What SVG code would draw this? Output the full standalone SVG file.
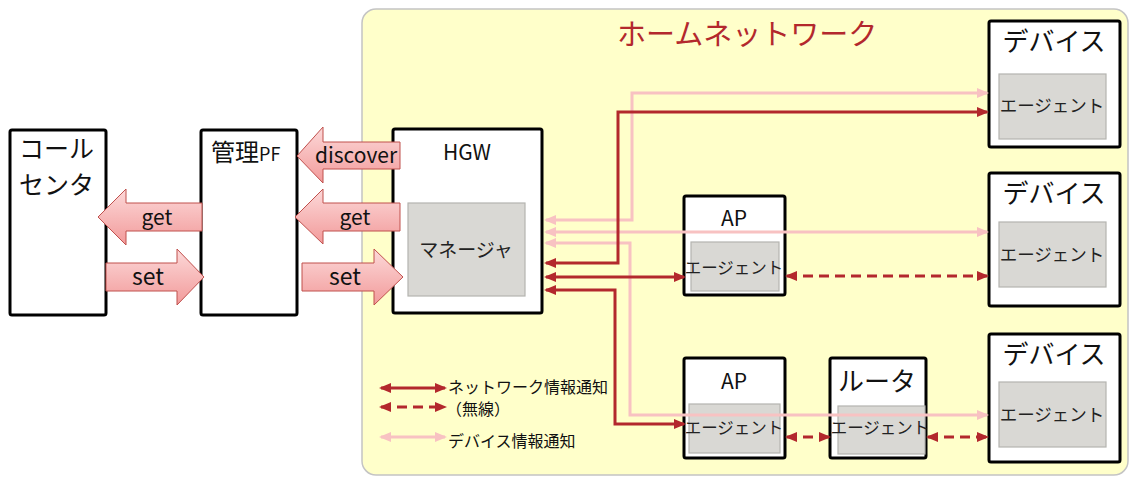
<svg xmlns="http://www.w3.org/2000/svg" width="1131" height="477" viewBox="0 0 1131 477">
<defs>
<style>
text{font-family:"Noto Sans CJK JP","Noto Sans",sans-serif;fill:#111}
.box{fill:#fff;stroke:#000;stroke-width:3}
.agent{fill:#d9d8d4;stroke:#b4b4b0;stroke-width:1.2}
.fat{fill:url(#pg);stroke:#c0504d;stroke-width:1}
.red{fill:none;stroke:#b3282d;stroke-width:3;marker-start:url(#mr);marker-end:url(#mr)}
.dash{stroke-dasharray:10 6}
.pink{fill:none;stroke:#f8c2c2;stroke-width:3;marker-start:url(#mp);marker-end:url(#mp)}
.ag{font-size:16.5px;text-anchor:middle;fill:#222}
.agd{font-size:17.5px;text-anchor:middle;fill:#222}
.dev{font-size:26px;text-anchor:middle}
.lg{font-size:16px}
</style>
<linearGradient id="pg" x1="0" y1="0" x2="0" y2="1">
<stop offset="0" stop-color="#fcd9d9"/>
<stop offset="1" stop-color="#f29a9a"/>
</linearGradient>
<marker id="mr" viewBox="0 0 12 10" refX="10" refY="5" markerWidth="12" markerHeight="10" markerUnits="userSpaceOnUse" orient="auto-start-reverse">
<path d="M0,0 L12,5 L0,10 z" fill="#b3282d"/>
</marker>
<marker id="mp" viewBox="0 0 12 10" refX="10" refY="5" markerWidth="12" markerHeight="10" markerUnits="userSpaceOnUse" orient="auto-start-reverse">
<path d="M0,0 L12,5 L0,10 z" fill="#f8c2c2"/>
</marker>
</defs>

<g id="home-network">
<rect x="362" y="9" width="766" height="466" rx="14" fill="#ffffca" stroke="#c4c4c4" stroke-width="1.5"/>
<text x="617" y="45" font-size="29" style="fill:#b3282d">ホームネットワーク</text>
</g>

<g id="call-center">
<rect class="box" x="10" y="130" width="96" height="185" rx="2"/>
<text x="19" y="158" font-size="25">コール</text>
<text x="19" y="194" font-size="25">センタ</text>
</g>

<g id="mgmt-pf">
<rect class="box" x="201" y="130" width="96" height="185" rx="2"/>
<text x="211" y="161" font-size="24">管理<tspan font-size="18">PF</tspan></text>
</g>

<g id="hgw">
<rect class="box" x="393" y="129" width="149" height="184" rx="2"/>
<text x="467" y="160" font-size="21" text-anchor="middle">HGW</text>
<rect class="agent" x="408" y="203" width="117" height="93"/>
<text x="466" y="257" font-size="19" text-anchor="middle" style="fill:#222">マネージャ</text>
</g>

<g id="ap1">
<rect class="box" x="684" y="196" width="101" height="99" rx="2"/>
<text x="734" y="226" font-size="21" text-anchor="middle">AP</text>
<rect class="agent" x="691" y="242" width="88" height="49"/>
<text class="ag" x="734" y="274">エージェント</text>
</g>

<g id="ap2">
<rect class="box" x="684" y="358" width="101" height="100" rx="2"/>
<text x="734" y="389" font-size="21" text-anchor="middle">AP</text>
<rect class="agent" x="689" y="404" width="91" height="49"/>
<text class="ag" x="734" y="434">エージェント</text>
</g>

<g id="router">
<rect class="box" x="830" y="358" width="96" height="100" rx="2"/>
<text x="877" y="391" font-size="26" text-anchor="middle">ルータ</text>
<rect class="agent" x="838" y="406" width="87" height="48"/>
<text class="ag" x="880" y="434">エージェント</text>
</g>

<g id="device1">
<rect class="box" x="989" y="21" width="131" height="126" rx="2"/>
<text class="dev" x="1054" y="51">デバイス</text>
<rect class="agent" x="999" y="74" width="107" height="65"/>
<text class="agd" x="1052" y="112">エージェント</text>
</g>

<g id="device2">
<rect class="box" x="989" y="173" width="131" height="133" rx="2"/>
<text class="dev" x="1054" y="203">デバイス</text>
<rect class="agent" x="999" y="222" width="107" height="65"/>
<text class="agd" x="1052" y="261">エージェント</text>
</g>

<g id="device3">
<rect class="box" x="989" y="334" width="131" height="128" rx="2"/>
<text class="dev" x="1054" y="364">デバイス</text>
<rect class="agent" x="999" y="382" width="107" height="65"/>
<text class="agd" x="1052" y="421">エージェント</text>
</g>

<g id="big-arrows">
<polygon class="fat" points="98,217 126,189 126,203 202,203 202,231 126,231 126,245"/>
<text x="157" y="225" font-size="21" text-anchor="middle">get</text>
<polygon class="fat" points="106,263 177,263 177,249 204,277 177,305 177,291 106,291"/>
<text x="148" y="285" font-size="23" text-anchor="middle">set</text>
<polygon class="fat" points="297,156 323,127 323,142 400,142 400,169 323,169 323,183"/>
<text x="356" y="163" font-size="21" text-anchor="middle">discover</text>
<polygon class="fat" points="295,217 323,189 323,203 400,203 400,231 323,231 323,244"/>
<text x="355" y="225" font-size="21" text-anchor="middle">get</text>
<polygon class="fat" points="302,263 374,263 374,249 403,277 374,305 374,291 302,291"/>
<text x="345" y="285" font-size="23" text-anchor="middle">set</text>
</g>

<g id="connectors">
<path class="pink" d="M546,220 H632 V93 H987"/>
<path class="pink" d="M546,232 H987"/>
<path class="pink" d="M546,243 H630 V415 H987"/>
<path class="red" d="M546,263 H618 V112 H987"/>
<path class="red" d="M546,277 H684"/>
<path class="red" d="M546,290 H615 V424 H684"/>
<path class="red dash" d="M787,276 H987"/>
<path class="red dash" d="M787,437 H829"/>
<path class="red dash" d="M928,437 H987"/>
</g>

<g id="legend">
<path class="red" d="M381,388 H445"/>
<path class="red dash" d="M381,407 H445"/>
<path class="pink" d="M381,437 H445"/>
<text class="lg" x="448" y="393">ネットワーク情報通知</text>
<text class="lg" x="446" y="415">（無線）</text>
<text class="lg" x="448" y="447">デバイス情報通知</text>
</g>
</svg>
